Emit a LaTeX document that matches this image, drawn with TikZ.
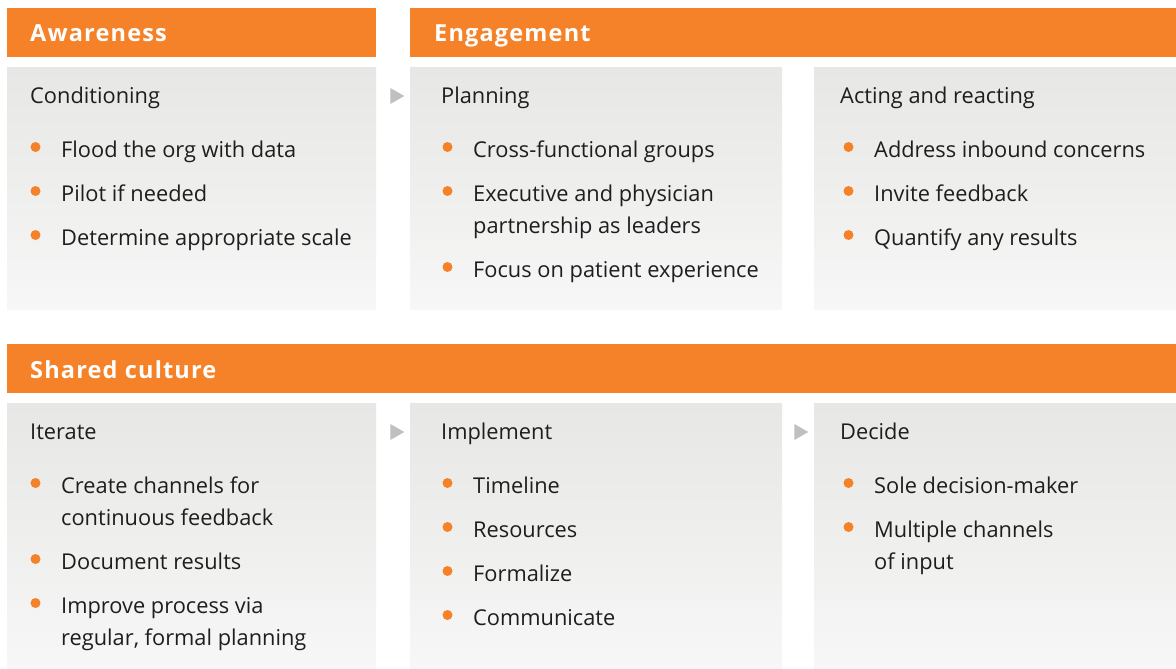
\documentclass[tikz,border=0pt]{standalone}
\usepackage{fontspec}
\setmainfont{Open Sans}
\newfontfamily\headfont[LetterSpace=5]{Open Sans}
\usetikzlibrary{shapes.geometric}
\definecolor{brand}{RGB}{245,130,41}
\definecolor{paneltop}{RGB}{231,231,229}
\definecolor{panelbot}{RGB}{246,247,246}
\definecolor{tri}{RGB}{192,192,192}
\definecolor{ink}{RGB}{30,30,30}
\tikzset{
  header/.style={fill=brand, draw=none, anchor=north west, inner sep=0},
  headtext/.style={anchor=base west, inner sep=0, text=white, font=\headfont\fontsize{23.5}{28}\selectfont\bfseries},
  panel/.style={top color=paneltop, bottom color=panelbot, draw=none, anchor=north west, inner sep=0},
  title/.style={anchor=base west, inner sep=0, text=ink, font=\fontsize{21.8}{26}\selectfont},
  itemtext/.style={anchor=base west, inner sep=0, text=ink, font=\fontsize{21.8}{26}\selectfont},
  dot/.style={circle, fill=brand, minimum size=10pt, inner sep=0},
  flow/.style={isosceles triangle, isosceles triangle stretches, minimum width=16pt, minimum height=14pt, inner sep=0, fill=tri}
}
% bullet: name, x of text, baseline y, text
\newcommand{\bul}[4]{%
  \node[dot] (#1d) at (#2-25.5,#3-10) {};
  \node[itemtext] (#1) at (#2,#3) {#4};}
\newcommand{\cont}[4]{\node[itemtext] (#1) at (#2,#3) {#4};}
\begin{document}
\begin{tikzpicture}[x=1pt,y=-1pt]
\useasboundingbox (0,0) rectangle (1176,669);
% headers
\node[header, minimum width=369pt, minimum height=49pt] (hA) at (7,8) {};
\node[header, minimum width=766pt, minimum height=49pt] (hE) at (410,8) {};
\node[header, minimum width=1169pt, minimum height=49pt] (hS) at (7,344) {};
\node[headtext] (tA) at (30,42) {Awareness};
\node[headtext] (tE) at (434,42) {Engagement};
\node[headtext] (tS) at (30,378) {Shared culture};
% panels, first row
\node[panel, minimum width=369pt, minimum height=242pt] (p1) at (7,67) {};
\node[panel, minimum width=372pt, minimum height=242pt] (p2) at (410,67) {};
\node[panel, minimum width=362pt, minimum height=242pt] (p3) at (814,67) {};
% panels, second row
\node[panel, minimum width=369pt, minimum height=266pt] (p4) at (7,403) {};
\node[panel, minimum width=372pt, minimum height=266pt] (p5) at (410,403) {};
\node[panel, minimum width=362pt, minimum height=266pt] (p6) at (814,403) {};
% flow markers
\node[flow] (f1) at (395,96) {};
\node[flow] (f2) at (395,432) {};
\node[flow] (f3) at (799,432) {};
% Conditioning
\node[title] (c0) at (30,103) {Conditioning};
\bul{c1}{61}{157}{Flood the org with data}
\bul{c2}{61}{201}{Pilot if needed}
\bul{c3}{61}{245}{Determine appropriate scale}
% Planning
\node[title] (l0) at (441,103) {Planning};
\bul{l1}{473}{157}{Cross-functional groups}
\bul{l2}{473}{201}{Executive and physician}
\cont{l2b}{473}{233}{partnership as leaders}
\bul{l3}{473}{277}{Focus on patient experience}
% Acting and reacting
\node[title] (a0) at (840,103) {Acting and reacting};
\bul{a1}{874}{157}{Address inbound concerns}
\bul{a2}{874}{201}{Invite feedback}
\bul{a3}{874}{245}{Quantify any results}
% Iterate
\node[title] (i0) at (30,439) {Iterate};
\bul{i1}{61}{493}{Create channels for}
\cont{i1b}{61}{525}{continuous feedback}
\bul{i2}{61}{569}{Document results}
\bul{i3}{61}{613}{Improve process via}
\cont{i3b}{61}{645}{regular, formal planning}
% Implement
\node[title] (m0) at (441,439) {Implement};
\bul{m1}{473}{493}{Timeline}
\bul{m2}{473}{537}{Resources}
\bul{m3}{473}{581}{Formalize}
\bul{m4}{473}{625}{Communicate}
% Decide
\node[title] (d0) at (840,439) {Decide};
\bul{d1}{874}{493}{Sole decision-maker}
\bul{d2}{874}{537}{Multiple channels}
\cont{d2b}{874}{569}{of input}
\end{tikzpicture}
\end{document}
